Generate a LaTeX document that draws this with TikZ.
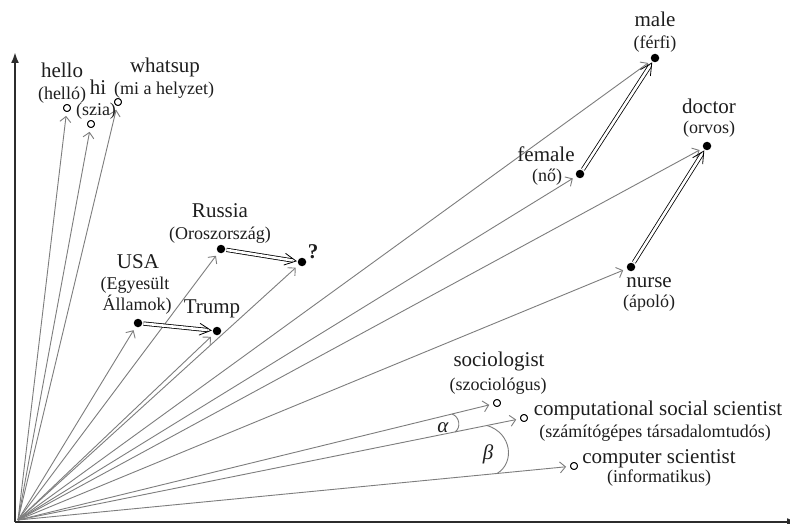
\documentclass[tikz,border=0pt]{standalone}
\usepackage{fontspec}
\setmainfont{Liberation Serif}
\usetikzlibrary{arrows.meta,calc}
\definecolor{ink}{HTML}{1E1E1E}
\definecolor{fang}{HTML}{7D7D7D}
\definecolor{axisc}{HTML}{2C2C2C}
\begin{document}
\begin{tikzpicture}[x=1pt,y=-1pt,
  fan/.style={draw=fang, line width=0.9pt, -{Straight Barb[length=5.5pt,width=11pt]}, shorten >=4pt},
  dot/.style={circle, fill=black, minimum size=8.5pt, inner sep=0pt},
  odot/.style={circle, draw=black, line width=0.9pt, minimum size=7pt, inner sep=0pt, fill=white},
  lab/.style={font=\fontsize{21}{24}\selectfont, text=ink, anchor=base, inner sep=0pt},
  sub/.style={font=\fontsize{18}{20}\selectfont, text=ink, anchor=base, inner sep=0pt},
  dblline/.style={draw=black, double=white, double distance=2.6pt, line width=0.8pt, shorten <=1pt, shorten >=5pt},
  dblhead/.style={draw=black, line width=0.8pt, line join=miter},
  axis/.style={draw=axisc, line width=2.2pt, -{Latex[length=11pt,width=8pt]}},
  angarc/.style={draw=fang, line width=0.9pt},
]
\useasboundingbox (0,0) rectangle (790,524);
\fill[white] (0,0) rectangle (790,524);

% axes
\coordinate (corner) at (15,522);
\coordinate (ytop) at (15,52);
\coordinate (xend) at (798,522);
\draw[axis] (corner) -- (ytop);
\draw[axis] (corner) -- (xend);
\coordinate (O) at (18,520);

% points
\node[odot] (hello) at (67,108) {};
\node[odot] (hi) at (91,124) {};
\node[odot] (whatsup) at (118,102) {};
\node[dot] (usa) at (138,323) {};
\node[dot] (trump) at (217,331) {};
\node[dot] (russia) at (221,249) {};
\node[dot] (q) at (302,262) {};
\node[dot] (female) at (580,174) {};
\node[dot] (male) at (655,58) {};
\node[dot] (doctor) at (707,146) {};
\node[dot] (nurse) at (631,267) {};
\node[odot] (soc) at (497,403) {};
\node[odot] (css) at (524,418) {};
\node[odot] (cs) at (574,466) {};

% fan arrows
\foreach \p in {hello,hi,whatsup,usa,trump,russia,q,female,male,doctor,nurse,soc,css,cs}
  \draw[fan] (O) -- (\p);

% redraw open circles on top
\foreach \p/\x/\y in {hello/67/108,hi/91/124,whatsup/118/102,soc/497/403,css/524/418,cs/574/466}
  \node[odot] (\p c) at (\x,\y) {};

% double arrows (analogy vectors)
\foreach \s/\t in {usa/trump,russia/q,female/male,nurse/doctor}{
  \draw[dblline] (\s) -- (\t);
  \coordinate (tip-\t) at ($(\t)!6pt!(\s)$);
  \draw[dblhead] ($(tip-\t)!13pt!27:(\s)$) -- (tip-\t) -- ($(tip-\t)!13pt!-27:(\s)$);
}

% angle arcs
\coordinate (a1) at (452,414);
\coordinate (a2) at (455,432);
\draw[angarc] (a1) .. controls (460,417) and (461,428) .. (a2);
\coordinate (b1) at (487,425.5);
\coordinate (b2) at (497,473.5);
\draw[angarc] (b1) .. controls (512,433) and (515,463) .. (b2);
\node[lab, anchor=center] (alpha) at (443,428) {\textit{α}};
\node[lab, anchor=center] (beta) at (488,454) {\textit{β}};

% labels
\node[lab] (tHello) at (62,78) {hello};
\node[sub] (sHello) at (62,100) {(helló)};
\node[lab] (tHi) at (98,95) {hi};
\node[sub] (sHi) at (96,116) {(szia)};
\node[lab] (tWhat) at (165,73) {whatsup};
\node[sub] (sWhat) at (164,95) {(mi a helyzet)};

\node[lab] (tMale) at (655,27) {male};
\node[sub] (sMale) at (655,49) {(férfi)};
\node[lab] (tDoc) at (709,114) {doctor};
\node[sub] (sDoc) at (709,134) {(orvos)};
\node[lab] (tFem) at (546,162) {female};
\node[sub] (sFem) at (547,182) {(nő)};
\node[lab] (tNurse) at (649,287) {nurse};
\node[sub] (sNurse) at (649,307) {(ápoló)};

\node[lab] (tRus) at (220,217) {Russia};
\node[sub] (sRus) at (220,239) {(Oroszország)};
\node[lab] (tUsa) at (138,268) {USA};
\node[sub] (sUsa1) at (135,289) {(Egyesült};
\node[sub] (sUsa2) at (137,310) {Államok)};
\node[lab] (tTrump) at (212,313) {Trump};
\node[lab, font=\fontsize{21}{24}\selectfont\bfseries] (tQ) at (313,258) {?};

\node[lab] (tSoc) at (499,366) {sociologist};
\node[sub] (sSoc) at (498,390) {(szociológus)};
\node[lab] (tCss) at (658,415) {computational social scientist};
\node[sub] (sCss) at (655,437) {(számítógépes társadalomtudós)};
\node[lab] (tCs) at (659,463) {computer scientist};
\node[sub] (sCs) at (659,482) {(informatikus)};
\end{tikzpicture}
\end{document}
